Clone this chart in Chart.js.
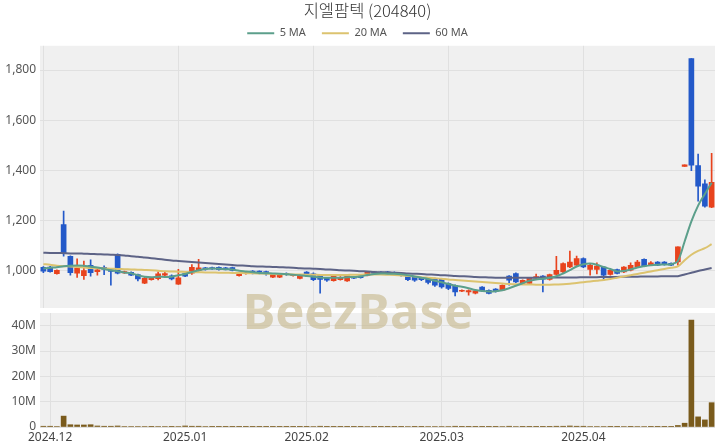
<!DOCTYPE html>
<html>
<head>
<meta charset="utf-8">
<script src="https://cdn.jsdelivr.net/npm/chart.js@4"></script>
<style>
  body { margin: 0; background: #fff; width: 720px; height: 448px; overflow: hidden; position: relative; }
  #priceBox { position: absolute; left: 0; top: 0; width: 720px; height: 310px; }
  #volBox { position: absolute; left: 0; top: 310px; width: 720px; height: 138px; }
  #mark { position: absolute; left: 0; width: 716px; top: 286px; text-align: center;
          font: bold 49px "Noto Sans", sans-serif; line-height: 49px; color: rgba(196, 182, 136, 0.6);
          pointer-events: none; }
</style>
</head>
<body>
<div id="priceBox"><canvas id="priceChart" width="720" height="310"></canvas></div>
<div id="volBox"><canvas id="volChart" width="720" height="138"></canvas></div>
<div id="mark">BeezBase</div>
<script>
// trading days shown on the x axis
const monthDays = [
  ['2024.11', [29]],
  ['2024.12', [2,3,4,5,6,9,10,11,12,13,16,17,18,19,20,23,24,26,27,30]],
  ['2025.01', [2,3,6,7,8,9,10,13,14,15,16,17,20,21,22,23,24,31]],
  ['2025.02', [3,4,5,6,7,10,11,12,13,14,17,18,19,20,21,24,25,26,27,28]],
  ['2025.03', [3,4,5,6,7,10,11,12,13,14,17,18,19,20,21,24,25,26,27,28,31]],
  ['2025.04', [1,2,3,4,7,8,9,10,11,14,15,16,17,18,21,22,23,24,25,28]]
];
const dates = monthDays.flatMap(([m, ds]) => ds.map(d => m + '.' + String(d).padStart(2, '0')));

const opens = [
  1012,1013,986,1182,1056,988,978,1020,994,1012,
  1002,1064,989,992,983,948,962,966,980,978,
  944,987,988,998,1010,1011,1012,1010,1011,978,
  986,997,997,995,972,972,988,978,967,993,
  986,982,968,958,962,957,974,978,979,993,
  993,994,992,988,976,973,970,970,967,964,
  947,940,916,913,908,933,920,925,920,977,
  987,947,947,968,977,963,983,993,1013,1020,
  1047,1003,1003,1013,983,1003,993,1000,1013,1044,
  1020,1033,1033,1028,1033,1415,1846,1418,1345,1252
];
const highs = [
  1015,1016,1002,1236,1058,1046,1037,1042,1004,1018,
  1006,1066,997,994,985,975,970,994,994,982,
  1004,990,1023,1044,1012,1013,1014,1012,1013,990,
  992,999,998,997,985,986,990,984,983,995,
  990,984,970,980,975,980,976,980,995,996,
  995,996,994,990,978,975,972,972,969,966,
  950,942,922,922,920,935,922,927,942,979,
  990,962,972,985,979,985,1056,1030,1077,1057,
  1050,1025,1030,1015,1005,1005,1015,1030,1040,1046,
  1035,1035,1035,1030,1093,1421,1846,1464,1361,1467
];
const lows = [
  990,992,984,1056,980,971,963,976,980,982,
  940,985,987,978,957,946,960,961,975,961,
  943,974,983,996,1000,1003,1000,1001,997,976,
  984,985,985,980,970,970,979,976,965,978,
  958,908,955,956,960,955,966,968,977,985,
  985,982,982,976,958,955,958,945,935,928,
  922,897,914,900,905,915,905,912,918,940,
  950,945,945,966,913,960,980,990,1010,1016,
  1010,980,985,960,980,985,990,997,1010,1015,
  1018,1018,1020,1018,1020,1415,1398,1276,1252,1250
];
const closes = [
  996,994,1000,1066,990,1009,999,990,1002,1003,
  995,988,995,980,965,968,968,986,987,965,
  970,976,1012,1010,1004,1005,1002,1003,999,987,
  990,991,992,987,983,983,982,980,981,981,
  962,963,960,977,971,978,968,970,992,987,
  988,985,984,980,962,960,962,951,940,933,
  927,913,920,919,918,917,907,915,940,960,
  953,960,969,975,964,983,1000,1027,1033,1047,
  1013,1020,1017,980,1000,987,1013,1020,1033,1017,
  1030,1020,1023,1020,1093,1421,1420,1336,1256,1351
];
const ma5 = [
  1007,1010,1012,1016,1018,1019,1018,1014,1011,1005,
  1000,996,991,988,980,974,972,974,973,974,
  980,985,993,1000,1005,1007,1006,1004,1003,998,
  995,992,989,988,987,986,984,982,980,977,
  974,971,970,970,970,972,973,975,981,985,
  987,986,986,984,980,975,970,965,958,952,
  945,938,934,928,921,917,915,916,920,928,
  938,948,958,963,966,970,976,987,1000,1015,
  1024,1027,1022,1013,1005,995,997,1003,1011,1016,
  1020,1022,1023,1024,1037,1115,1195,1258,1305,1350
];
const ma20 = [
  1024,1022,1018,1016,1015,1013,1011,1009,1008,1007,
  1006,1005,1004,1003,1002,1001,1000,998,996,995,
  994,993,992,992,991,991,990,990,989,989,
  988,988,987,986,985,984,984,983,983,982,
  982,981,981,981,981,981,982,982,983,983,
  983,982,981,979,977,975,972,970,968,966,
  963,961,959,957,955,953,951,949,947,945,
  944,943,943,942,942,942,943,944,946,949,
  952,955,958,961,965,970,975,980,985,990,
  995,1000,1005,1010,1015,1040,1062,1077,1088,1104
];
const ma60 = [
  1070,1069,1069,1068,1067,1067,1066,1065,1064,1063,
  1062,1061,1059,1056,1054,1051,1048,1045,1042,1039,
  1037,1035,1033,1031,1029,1027,1025,1023,1021,1019,
  1018,1016,1015,1014,1013,1012,1011,1010,1008,1007,
  1006,1005,1003,1002,1000,999,998,996,995,993,
  992,991,990,989,987,986,985,983,982,980,
  979,977,976,975,973,972,971,970,970,970,
  970,970,970,970,971,971,971,971,971,971,
  972,972,972,973,973,973,974,974,974,975,
  975,975,976,976,976,983,990,997,1003,1009
];
// volume in millions of shares
const volumeM = [
  0.3,0.3,0.2,4.3,0.9,0.8,0.8,0.9,0.4,0.3,
  0.3,0.4,0.2,0.2,0.2,0.2,0.1,0.2,0.2,0.1,
  0.2,0.4,0.3,0.3,0.2,0.1,0.1,0.1,0.1,0.1,
  0.1,0.1,0.1,0.1,0.1,0.1,0.1,0.1,0.1,0.1,
  0.2,0.3,0.1,0.1,0.1,0.1,0.1,0.1,0.2,0.1,
  0.1,0.1,0.1,0.1,0.2,0.1,0.1,0.2,0.2,0.2,
  0.2,0.3,0.1,0.1,0.1,0.1,0.1,0.1,0.2,0.3,
  0.2,0.1,0.1,0.1,0.1,0.1,0.3,0.3,0.4,0.3,
  0.3,0.2,0.2,0.2,0.1,0.1,0.2,0.1,0.2,0.2,
  0.1,0.1,0.1,0.1,0.6,1.5,42.2,4.0,2.8,9.6
];
const priceTicks = [1000, 1200, 1400, 1600, 1800];
const volumeTicks = [0, 10, 20, 30, 40];

const UP = '#e8431d';
const DOWN = '#2359c9';
const candleColors = closes.map((c, i) => c >= opens[i] ? UP : DOWN);
const monthStart = dates.map((d, i) => i > 0 && d.slice(0, 7) !== dates[i - 1].slice(0, 7));

Chart.defaults.font.family = '"Noto Sans", sans-serif';
Chart.defaults.animation = false;

const plotBg = {
  id: 'plotBg',
  beforeDraw(chart) {
    const a = chart.chartArea;
    chart.ctx.save();
    chart.ctx.fillStyle = '#f0f0f0';
    chart.ctx.fillRect(a.left, a.top, a.right - a.left, a.bottom - a.top);
    chart.ctx.restore();
  }
};

// keep the legend band short so the plot starts where the original does,
// then nudge title and legend to the spots they sit in the original
const headerTweak = {
  id: 'headerTweak',
  beforeInit(chart) {
    const fit = chart.legend.fit;
    chart.legend.fit = function () {
      fit.call(this);
      this.height = 25;
    };
  },
  afterLayout(chart) {
    chart.legend.top -= 9;
    chart.legend.bottom -= 9;
    chart.titleBlock.left += 20;
  }
};

function noPad(s) {
  s.width = 40;
  s.paddingTop = 0;
  s.paddingBottom = 0;
}

new Chart(document.getElementById('priceChart'), {
  type: 'bar',
  data: {
    labels: dates,
    datasets: [
      { type: 'line', label: '5 MA', data: ma5, borderColor: '#5c9f8b', backgroundColor: '#5c9f8b',
        borderWidth: 2, pointRadius: 0, tension: 0.3, order: 0 },
      { type: 'line', label: '20 MA', data: ma20, borderColor: '#dcc36f', backgroundColor: '#dcc36f',
        borderWidth: 2, pointRadius: 0, tension: 0.3, order: 0 },
      { type: 'line', label: '60 MA', data: ma60, borderColor: '#5d6386', backgroundColor: '#5d6386',
        borderWidth: 2, pointRadius: 0, tension: 0.3, order: 0 },
      { label: 'body', data: opens.map((o, i) => [o, closes[i]]), backgroundColor: candleColors,
        barThickness: 5, grouped: false, order: 1 },
      { label: 'wick', data: lows.map((l, i) => [l, highs[i]]), backgroundColor: candleColors,
        barThickness: 1, grouped: false, order: 2 }
    ]
  },
  options: {
    responsive: false,
    layout: { padding: { left: 0, right: 5, top: 0, bottom: 2 } },
    plugins: {
      title: { display: true, text: '지엘팜텍 (204840)', color: '#333',
        font: { family: '"Noto Sans CJK KR", sans-serif', size: 16.5, weight: 300 },
        padding: { top: 1, bottom: 0 } },
      legend: {
        labels: {
          filter: item => item.text.includes('MA'),
          usePointStyle: true, pointStyle: 'line', pointStyleWidth: 27,
          color: '#555', font: { size: 11 }, padding: 16, boxHeight: 8
        }
      },
      tooltip: { enabled: false }
    },
    scales: {
      x: {
        ticks: { display: false },
        grid: { offset: false, drawTicks: false, color: ctx => ctx.index % 20 === 0 ? '#e0e0e0' : 'transparent' },
        border: { display: false }
      },
      y: {
        min: 849, max: 1897,
        afterBuildTicks: s => { s.ticks = priceTicks.map(v => ({ value: v })); },
        afterFit: noPad,
        ticks: { color: '#555', font: { size: 12 }, padding: 4,
          callback: v => v.toLocaleString('en-US') },
        grid: { color: '#e0e0e0', drawTicks: false },
        border: { display: false }
      }
    }
  },
  plugins: [plotBg, headerTweak]
});

new Chart(document.getElementById('volChart'), {
  type: 'bar',
  data: {
    labels: dates,
    datasets: [
      { label: 'Volume', data: volumeM, backgroundColor: '#7a5b1c', barThickness: 5 }
    ]
  },
  options: {
    responsive: false,
    layout: { padding: { left: 0, right: 5, top: 3, bottom: 0 } },
    plugins: { legend: { display: false }, tooltip: { enabled: false } },
    scales: {
      x: {
        afterFit: s => { s.height = 21; },
        ticks: { autoSkip: false, maxRotation: 0, color: '#444', font: { size: 12 }, padding: 3,
          callback: (v, i) => (i === 1 || monthStart[i]) ? dates[i].slice(0, 7) : null },
        grid: { offset: false, drawTicks: false, color: '#e0e0e0' },
        border: { display: false }
      },
      y: {
        min: 0, max: 45,
        afterBuildTicks: s => { s.ticks = volumeTicks.map(v => ({ value: v })); },
        afterFit: noPad,
        ticks: { color: '#555', font: { size: 12 }, padding: 4,
          callback: v => v === 0 ? '0' : v + 'M' },
        grid: { color: '#e0e0e0', drawTicks: false },
        border: { display: false }
      }
    }
  },
  plugins: [plotBg]
});
</script>
</body>
</html>
